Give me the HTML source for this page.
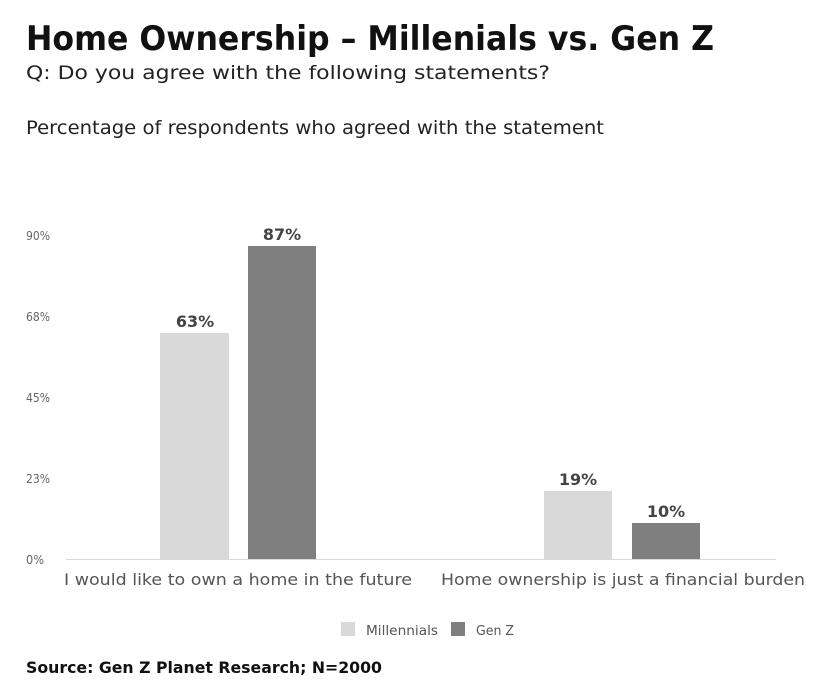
<!DOCTYPE html>
<html><head><meta charset="utf-8"><style>
html,body{margin:0;padding:0;background:#fff;}
svg{display:block;font-family:"DejaVu Sans","Liberation Sans",sans-serif;}
</style></head><body>
<svg width="822" height="698" viewBox="0 0 822 698" xmlns="http://www.w3.org/2000/svg">
<rect width="822" height="698" fill="#fff"/>
<text x="26" y="50" font-size="34" font-weight="bold" fill="#111" textLength="688" lengthAdjust="spacingAndGlyphs">Home Ownership – Millenials vs. Gen Z</text>
<text x="26" y="79" font-size="19" fill="#222" textLength="524" lengthAdjust="spacingAndGlyphs">Q: Do you agree with the following statements?</text>
<text x="26" y="134" font-size="19" fill="#222" textLength="578" lengthAdjust="spacingAndGlyphs">Percentage of respondents who agreed with the statement</text>
<g font-size="12" fill="#666">
<text x="26" y="240" textLength="24" lengthAdjust="spacingAndGlyphs">90%</text>
<text x="26" y="321" textLength="24" lengthAdjust="spacingAndGlyphs">68%</text>
<text x="26" y="402" textLength="24" lengthAdjust="spacingAndGlyphs">45%</text>
<text x="26" y="483" textLength="24" lengthAdjust="spacingAndGlyphs">23%</text>
<text x="26" y="564" textLength="18" lengthAdjust="spacingAndGlyphs">0%</text>
</g>
<line x1="66" y1="559.5" x2="776" y2="559.5" stroke="#d9d9d9" stroke-width="1"/>
<rect x="160" y="333" width="69" height="226" fill="#d9d9d9"/>
<rect x="248" y="246" width="68" height="313" fill="#7f7f7f"/>
<rect x="544" y="491" width="68" height="68" fill="#d9d9d9"/>
<rect x="632" y="523" width="68" height="36" fill="#7f7f7f"/>
<g font-size="16" font-weight="bold" fill="#444" text-anchor="middle">
<text x="195" y="327">63%</text>
<text x="282" y="240">87%</text>
<text x="578" y="485">19%</text>
<text x="666" y="517">10%</text>
</g>
<g font-size="16" fill="#555">
<text x="64" y="585" textLength="348" lengthAdjust="spacingAndGlyphs">I would like to own a home in the future</text>
<text x="441" y="585" textLength="364" lengthAdjust="spacingAndGlyphs">Home ownership is just a financial burden</text>
</g>
<rect x="341" y="622" width="14" height="14" fill="#d9d9d9"/>
<text x="366" y="635" font-size="13" fill="#555" textLength="72" lengthAdjust="spacingAndGlyphs">Millennials</text>
<rect x="451" y="622" width="14" height="14" fill="#7f7f7f"/>
<text x="476" y="635" font-size="13" fill="#555" textLength="38" lengthAdjust="spacingAndGlyphs">Gen Z</text>
<text x="26" y="673" font-size="16" font-weight="bold" fill="#111" textLength="356" lengthAdjust="spacingAndGlyphs">Source: Gen Z Planet Research; N=2000</text>
</svg>
</body></html>
